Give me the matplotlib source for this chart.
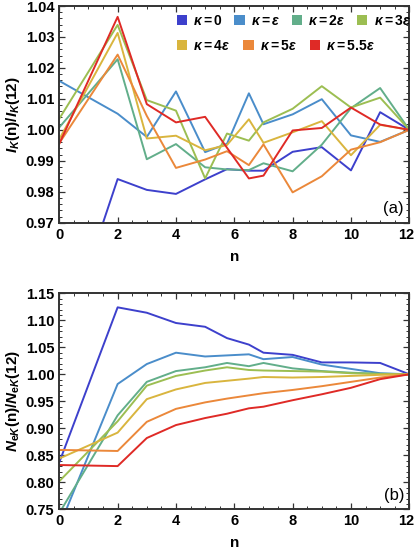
import matplotlib
matplotlib.use("Agg")
import matplotlib.pyplot as plt
import matplotlib.transforms as mtransforms
from matplotlib.patches import Patch
from matplotlib.ticker import MultipleLocator

plt.rcParams['font.family'] = ['Liberation Sans', 'DejaVu Sans']
plt.rcParams['mathtext.fontset'] = 'custom'
plt.rcParams['mathtext.rm'] = 'Liberation Sans:bold'
plt.rcParams['mathtext.it'] = 'Liberation Sans:italic:bold'
plt.rcParams['mathtext.bf'] = 'Liberation Sans:bold'
plt.rcParams['mathtext.fallback'] = 'stixsans'

n = [0, 2, 3, 4, 5, 5.75, 6.5, 7, 8, 9, 10, 11, 12]

labels = [r'$\kappa = 0$', r'$\kappa = \epsilon$', r'$\kappa = 2\epsilon$', r'$\kappa = 3\epsilon$',
          r'$\kappa = 4\epsilon$', r'$\kappa = 5\epsilon$', r'$\kappa = 5.5\epsilon$']
colors = ['#3D40CC', '#4A8DCA', '#62AE8A', '#9CBE52', '#D9B53E', '#EB883A', '#DF2A26']

# panel (a): I_K(n)/I_K(12)
I_k0  = [0.9277, 0.9841, 0.9806, 0.9793, 0.9840, 0.9873, 0.9868, 0.9868, 0.9929, 0.9944, 0.9869, 1.0057, 1.000]
I_k1  = [1.0158, 1.0052, 0.9977, 1.0124, 0.9928, 0.9955, 1.0118, 1.0018, 1.0050, 1.0099, 0.9982, 0.9961, 1.000]
I_k2  = [1.0008, 1.0228, 0.9905, 0.9954, 0.9879, 0.9872, 0.9870, 0.9892, 0.9866, 0.9952, 1.0070, 1.0135, 1.000]
I_k3  = [1.0036, 1.0339, 1.0096, 1.0062, 0.9843, 0.9988, 0.9965, 1.0024, 1.0068, 1.0141, 1.0072, 1.0104, 1.000]
I_k4  = [0.9970, 1.0313, 0.9972, 0.9981, 0.9934, 0.9951, 1.0034, 0.9958, 0.9992, 1.0028, 0.9918, 1.0016, 1.000]
I_k5  = [0.9957, 1.0243, 1.0045, 0.9877, 0.9904, 0.9931, 0.9886, 0.9953, 0.9798, 0.9850, 0.9936, 0.9960, 1.000]
I_k55 = [0.9955, 1.0365, 1.0083, 1.0024, 1.0042, 0.9942, 0.9843, 0.9852, 0.9998, 1.0006, 1.0072, 1.0017, 1.000]

# panel (b): N_eK(n)/N_eK(12)
N_k0  = [0.837, 1.124, 1.114, 1.095, 1.088, 1.067, 1.055, 1.040, 1.036, 1.022, 1.022, 1.021, 1.000]
N_k1  = [0.718, 0.982, 1.019, 1.040, 1.033, 1.035, 1.037, 1.028, 1.032, 1.018, 1.010, 1.002, 1.000]
N_k2  = [0.743, 0.924, 0.986, 1.006, 1.013, 1.021, 1.015, 1.021, 1.011, 1.006, 1.003, 1.001, 1.000]
N_k3  = [0.802, 0.913, 0.979, 0.997, 1.007, 1.013, 1.008, 1.007, 1.006, 1.005, 1.002, 1.0006, 1.000]
N_k4  = [0.844, 0.892, 0.954, 0.972, 0.984, 0.988, 0.992, 0.995, 0.994, 0.995, 0.997, 0.999, 1.000]
N_k5  = [0.860, 0.858, 0.912, 0.936, 0.948, 0.955, 0.961, 0.965, 0.971, 0.978, 0.986, 0.994, 1.000]
N_k55 = [0.832, 0.830, 0.882, 0.906, 0.919, 0.927, 0.937, 0.940, 0.952, 0.963, 0.975, 0.991, 1.000]

I_series = [I_k0, I_k1, I_k2, I_k3, I_k4, I_k5, I_k55]
N_series = [N_k0, N_k1, N_k2, N_k3, N_k4, N_k5, N_k55]

fig = plt.figure(figsize=(4.15, 5.53), dpi=100)
W, H = 415, 553
def add_ax(l, t, r, b):
    return fig.add_axes([l / W, 1 - b / H, (r - l) / W, (b - t) / H])

axA = add_ax(59.3, 6, 409.3, 222.7)
axB = add_ax(59.3, 293.3, 409.3, 509.3)

def style(ax, yticks, ymin):
    ax.set_xlim(0, 12)
    ax.xaxis.set_minor_locator(MultipleLocator(0.5))
    ax.set_xticks([0, 2, 4, 6, 8, 10, 12])
    ax.set_xticklabels(['0', '2', '4', '6', '8', '10', '12'], fontweight='bold', fontsize=10.5)
    ax.set_yticks(yticks)
    ax.set_yticklabels(['%.2f' % v for v in yticks], fontweight='bold', fontsize=10.5)
    ax.yaxis.set_minor_locator(MultipleLocator(ymin))
    ax.tick_params(which='both', direction='in', top=True, right=True, color='#333333')
    ax.tick_params(which='major', length=4, width=0.9)
    ax.tick_params(which='minor', length=2.2, width=0.7)
    for s in ax.spines.values():
        s.set_linewidth(1.4)
        s.set_color('#333333')
    ax.set_xlabel('n', fontsize=11, fontweight='bold', labelpad=6)

for ys, c, lab in zip(I_series, colors, labels):
    axA.plot(n, ys, color=c, lw=1.4, label=lab)
axA.set_ylim(0.97, 1.04)
style(axA, [0.97, 0.98, 0.99, 1.00, 1.01, 1.02, 1.03, 1.04], 0.002)
axA.set_ylabel(r'$I_K\mathrm{(n)/}I_K\mathrm{(12)}$', fontsize=11, labelpad=3)
axA.text(0.985, 0.03, '(a)', transform=axA.transAxes, ha='right', va='bottom', fontsize=12)

handles = [Patch(facecolor=c, edgecolor='none') for c in colors]
legfont = dict(size=10)
leg1 = axA.legend(handles[:4], labels[:4], ncol=4, loc='center left', bbox_to_anchor=(0.335, 0.93),
                  frameon=False, handlelength=0.75, handleheight=0.75, handletextpad=0.45,
                  columnspacing=0.8, borderaxespad=0, borderpad=0, prop=legfont)
axA.add_artist(leg1)
leg2 = axA.legend(handles[4:], labels[4:], ncol=3, loc='center left', bbox_to_anchor=(0.335, 0.815),
                  frameon=False, handlelength=0.75, handleheight=0.75, handletextpad=0.45,
                  columnspacing=0.9, borderaxespad=0, borderpad=0, prop=legfont)

for ys, c in zip(N_series, colors):
    axB.plot(n, ys, color=c, lw=1.4)
axB.set_ylim(0.75, 1.15)
style(axB, [0.75, 0.80, 0.85, 0.90, 0.95, 1.00, 1.05, 1.10, 1.15], 0.01)
axB.set_ylabel(r'$N_{\mathrm{e}K}\mathrm{(n)/}N_{\mathrm{e}K}\mathrm{(12)}$', fontsize=11, labelpad=3)
axB.text(0.985, 0.03, '(b)', transform=axB.transAxes, ha='right', va='bottom', fontsize=12)

# nudge the last x tick label ("12") slightly left so it stays inside the figure
shift = mtransforms.ScaledTranslation(-3 / 100, 0, fig.dpi_scale_trans)
for ax in (axA, axB):
    lab = ax.xaxis.get_major_ticks()[-1].label1
    lab.set_transform(lab.get_transform() + shift)

fig.savefig('out.png', dpi=100)
